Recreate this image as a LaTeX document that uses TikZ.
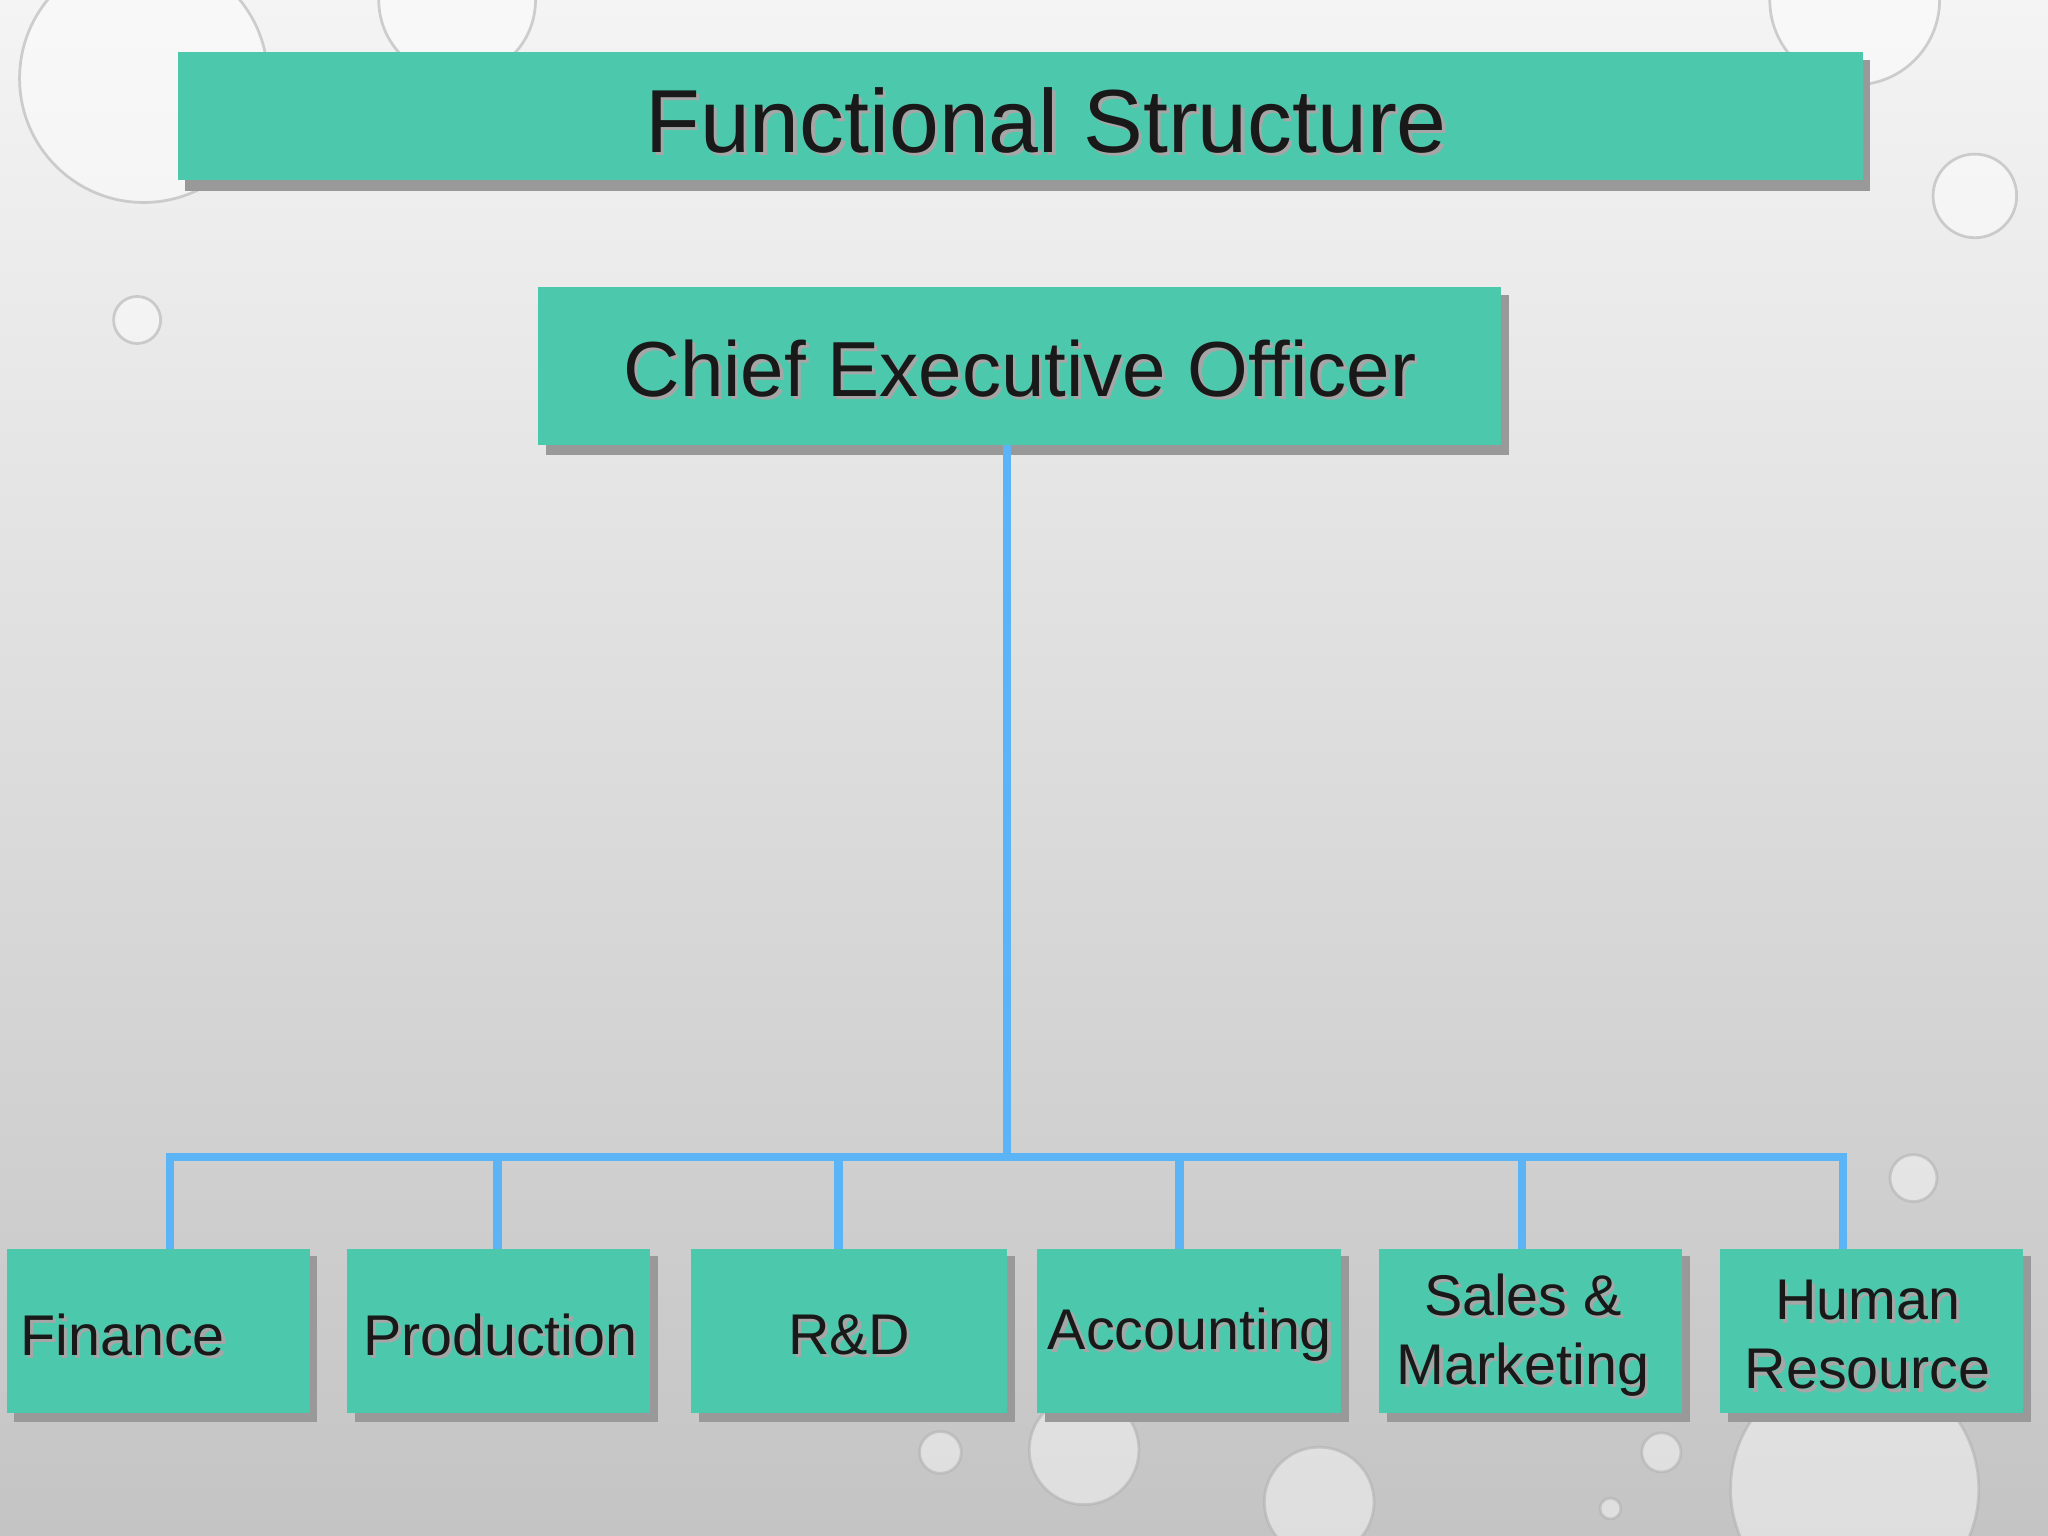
\documentclass[tikz,border=0pt]{standalone}
\usepackage{fontspec}
\setmainfont{Liberation Sans}
\definecolor{teal1}{HTML}{4CC9AD}
\definecolor{lineb}{HTML}{5AB4F5}
\definecolor{bgtop}{HTML}{F4F4F4}
\definecolor{bgbot}{HTML}{C4C4C4}
\tikzset{
  shad/.style={fill=black!40, draw=none},
  conn/.style={draw=lineb, line width=1.8pt},
  txt/.style={text=black!90}
}
\newcommand{\shtext}[4]{% pos, size, baselineskip, text
  \node[text=black!35,align=center,font=\fontsize{#2}{#3}\selectfont] at ($#1+(2.5,2.5)$) {#4};
  \node[txt,align=center,font=\fontsize{#2}{#3}\selectfont] at #1 {#4};}
\usetikzlibrary{calc}
\begin{document}
\begin{tikzpicture}[x=0.01cm,y=-0.01cm]
\shade[top color=bgtop,bottom color=bgbot] (0,0) rectangle (1568,1176);
\useasboundingbox (0,0) rectangle (1568,1176);
% bubbles
\foreach \cx/\cy/\r in {105/245/18,1512/150/32,1465/902/18,720/1112/16,1272/1112/15,1233/1155/8,830/1110/42,1010/1150/42,1420/1140/95,110/60/95,350/0/60,1420/0/65}{
  \fill[white,opacity=0.45] (\cx,\cy) circle (\r);
  \draw[gray!60,opacity=0.6,line width=0.6pt] (\cx,\cy) circle (\r);}
% title
\fill[shad] (142,46) rectangle (1432,146);
\fill[teal1] (136,40) rectangle (1426,138);
\coordinate (ttl) at (801,92);
\shtext{(ttl)}{19.5}{23}{Functional Structure}
% CEO
\fill[shad] (418,226) rectangle (1155,348);
\fill[teal1] (412,220) rectangle (1149,341);
\coordinate (ceoT) at (781,282);
\shtext{(ceoT)}{17}{20}{Chief Executive Officer}
% connectors
\coordinate (ceoB) at (771,341);
\coordinate (hub) at (771,886);
\coordinate (hl) at (130,886);
\coordinate (hr) at (1411,886);
\draw[conn] (ceoB) -- (hub);
\draw[conn] ([xshift=-0.9pt]hl) -- ([xshift=0.9pt]hr);
% bottom boxes
\foreach \name/\xa/\xb/\dx/\lbl/\tx in {
  fin/5/237/130/Finance/94,
  pro/266/498/381/Production/383,
  rnd/529/771/642/R\&D/650,
  acc/794/1027/903/Accounting/911,
  sal/1056/1288/1165/{Sales \&\\Marketing}/1166,
  hr/1317/1549/1411/{Human\\Resource}/1430}{
  \fill[shad] (\xa+6,962) rectangle (\xb+6,1089);
  \fill[teal1] (\xa,956) rectangle (\xb,1082);
  \coordinate (\name) at (\tx,1022);
  \coordinate (\name top) at (\dx,956);
  \coordinate (\name up) at (\dx,886);
  \draw[conn] (\name up) -- (\name top);
  \shtext{(\name)}{12.5}{15}{\lbl}
}
\end{tikzpicture}
\end{document}
